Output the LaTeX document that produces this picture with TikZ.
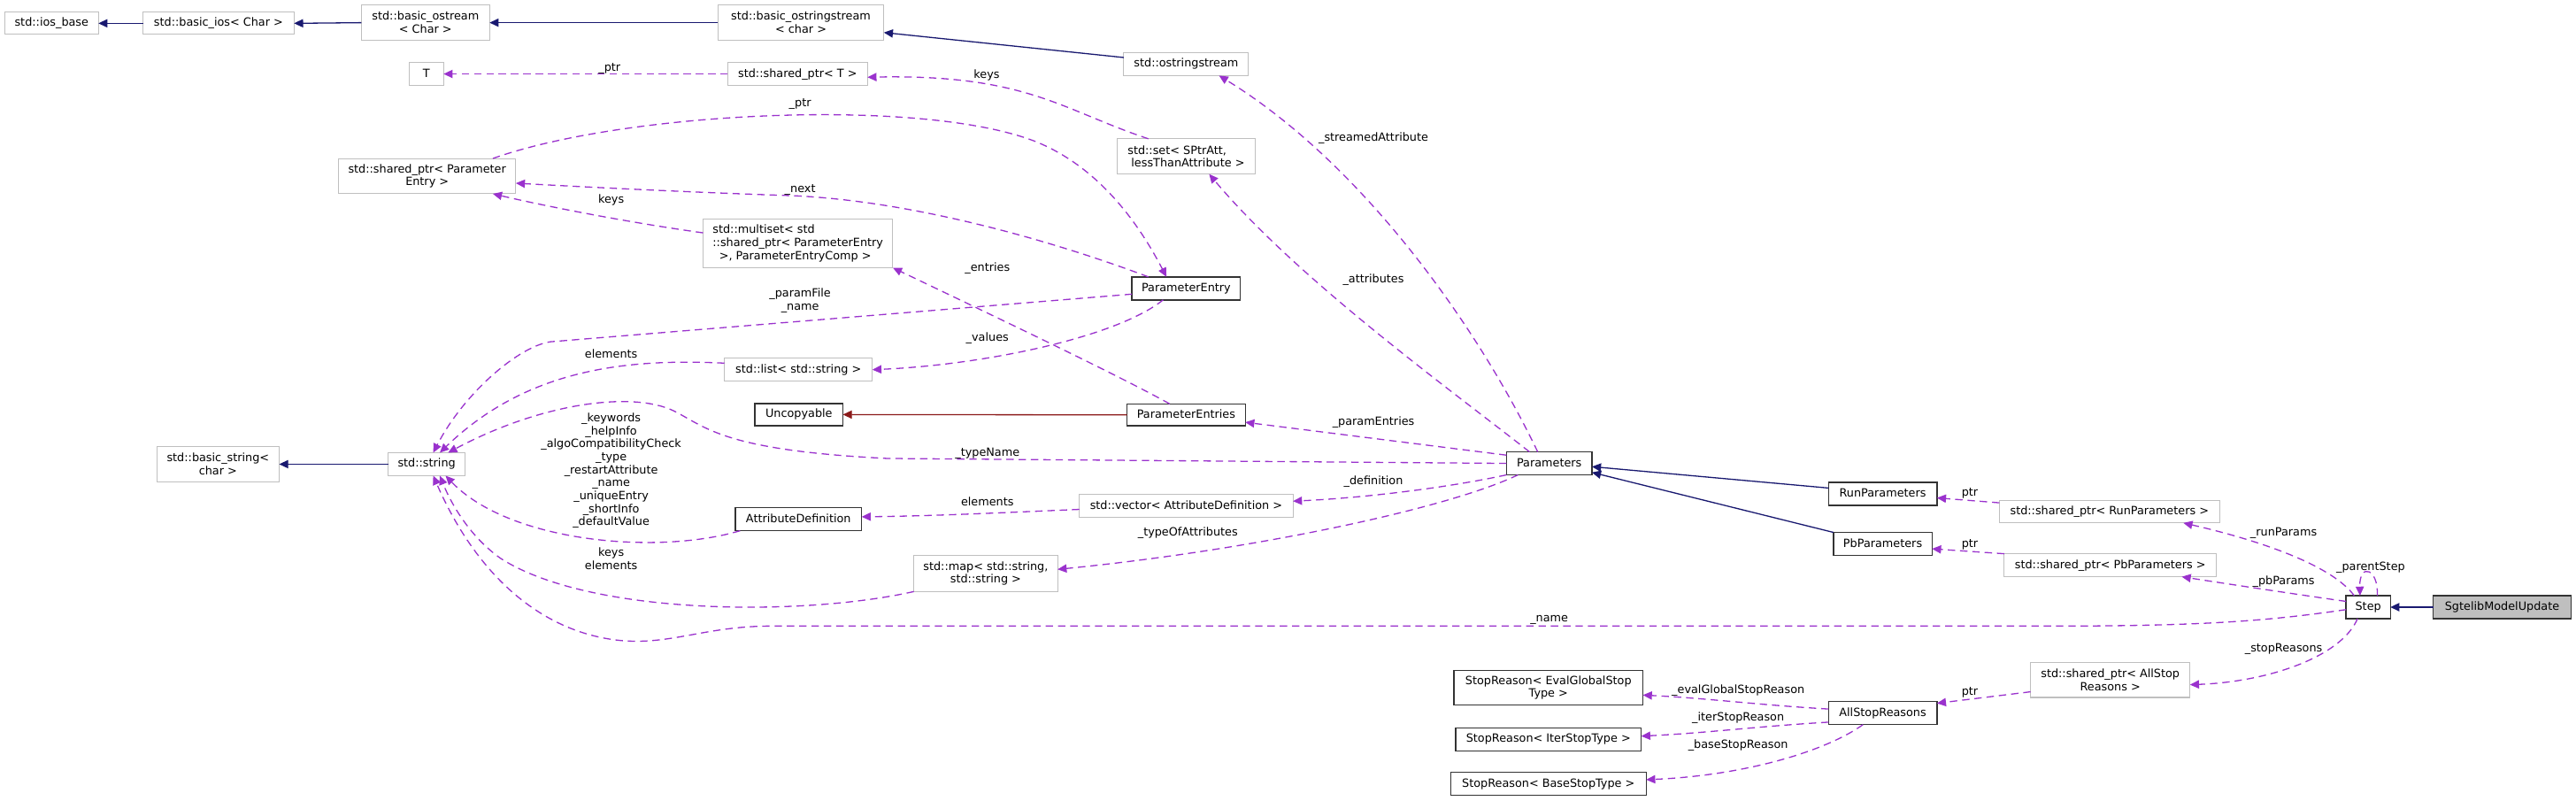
\documentclass[tikz,border=0pt]{standalone}
\usepackage{fontspec}
\setmainfont{DejaVu Sans}
\usetikzlibrary{arrows.meta}
\definecolor{usecol}{HTML}{9A32CD}
\definecolor{inhcol}{HTML}{191970}
\definecolor{privcol}{HTML}{8B1A1A}
\definecolor{extcol}{HTML}{BFBFBF}
\tikzset{
  box/.style={inner sep=0pt, outer sep=0pt, align=center, font=\fontsize{6.9}{8}\selectfont, fill=white},
  ext/.style={box, draw=extcol, line width=0.55pt},
  doc/.style={box, draw=black!80, line width=0.8pt},
  one/.style={text height=5.3pt, text depth=1.5pt},
  lbl/.style={inner sep=0pt, font=\fontsize{6.9}{8}\selectfont, text height=5.3pt, text depth=1.5pt},
  lblm/.style={inner sep=0pt, font=\fontsize{6.9}{7.9}\selectfont, align=center},
  tip/.style={-{Triangle[length=5.5pt,width=5pt]}},
  use/.style={tip, draw=usecol, fill=none, line width=0.7pt, dash pattern=on 4.5pt off 3pt},
  inh/.style={tip, draw=inhcol, line width=0.7pt},
  priv/.style={tip, draw=privcol, line width=0.7pt},
}
\begin{document}
\begin{tikzpicture}[x=1pt,y=-1pt]
\fill[white] (0,0) rectangle (1568,487);
\useasboundingbox (0,0) rectangle (1568,487);

% nodes
\node[ext,one,minimum width=57,minimum height=13.5] (iosbase) at (31.4,14.2) {std::ios\_base};
\node[ext,one,minimum width=92,minimum height=13.5] (basicios) at (133,14.2) {std::basic\_ios< Char >};
\node[ext,minimum width=78,minimum height=21.6] (basicostream) at (259,13.8) {std::basic\_ostream\\< Char >};
\node[ext,minimum width=101,minimum height=21.6] (basicostringstream) at (487.5,13.8) {std::basic\_ostringstream\\< char >};
\node[ext,one,minimum width=76,minimum height=14] (ostringstream) at (722,39) {std::ostringstream};
\node[ext,one,minimum width=21,minimum height=14] (T) at (259.5,45) {T};
\node[ext,one,minimum width=85,minimum height=14] (sharedptrT) at (485.5,45) {std::shared\_ptr< T >};
\node[ext,align=left,minimum width=84,minimum height=21.5] (set) at (722,95.2) {std::set< SPtrAtt,\\\hspace*{2.2pt}lessThanAttribute >};
\node[ext,minimum width=108,minimum height=21.5] (sharedptrPE) at (260,107.2) {std::shared\_ptr< Parameter\\Entry >};
\node[ext,align=left,minimum width=115.5,minimum height=29.5] (multiset) at (485.7,148.2) {std::multiset< std\\::shared\_ptr< ParameterEntry\\\hspace*{4pt}>, ParameterEntryComp >};
\node[doc,one,minimum width=66,minimum height=14] (PE) at (722,175.5) {ParameterEntry};
\node[ext,one,minimum width=90,minimum height=14] (list) at (486,225) {std::list< std::string >};
\node[doc,one,minimum width=53.5,minimum height=13.4] (uncopyable) at (486.3,252.3) {Uncopyable};
\node[doc,one,minimum width=72,minimum height=13.4] (PEs) at (722,252.5) {ParameterEntries};
\node[ext,minimum width=74.5,minimum height=22] (basicstring) at (132.7,282.5) {std::basic\_string<\\char >};
\node[ext,one,minimum width=46.5,minimum height=14] (string) at (259.7,282.5) {std::string};
\node[doc,one,minimum width=52,minimum height=14] (params) at (943,282) {Parameters};
\node[doc,one,minimum width=66,minimum height=14] (runparams) at (1146,300.5) {RunParameters};
\node[ext,one,minimum width=134,minimum height=13.5] (sprun) at (1284,311.5) {std::shared\_ptr< RunParameters >};
\node[doc,one,minimum width=60,minimum height=14] (pbparams) at (1146,331) {PbParameters};
\node[ext,one,minimum width=129,minimum height=14] (sppb) at (1284.5,344) {std::shared\_ptr< PbParameters >};
\node[ext,one,minimum width=130,minimum height=14] (vector) at (722,308) {std::vector< AttributeDefinition >};
\node[doc,one,minimum width=77,minimum height=14] (attrdef) at (486,316) {AttributeDefinition};
\node[ext,minimum width=87.5,minimum height=22] (map) at (600,349) {std::map< std::string,\\std::string >};
\node[doc,one,minimum width=27,minimum height=14] (step) at (1441.5,369.5) {Step};
\node[doc,one,fill=extcol,minimum width=84,minimum height=14] (sgtelib) at (1523,369.5) {SgtelibModelUpdate};
\node[ext,minimum width=97,minimum height=21.5] (spall) at (1284.5,413.7) {std::shared\_ptr< AllStop\\Reasons >};
\node[doc,minimum width=115,minimum height=21] (sreval) at (942.5,418.5) {StopReason< EvalGlobalStop\\Type >};
\node[doc,one,minimum width=66,minimum height=14] (allstop) at (1146,434) {AllStopReasons};
\node[doc,one,minimum width=113,minimum height=14] (sriter) at (942.5,450) {StopReason< IterStopType >};
\node[doc,one,minimum width=119,minimum height=14] (srbase) at (942.5,477) {StopReason< BaseStopType >};

% inheritance
\draw[inh] (basicios.west) -- (iosbase.east);
\draw[inh] (basicostream.west) -- (basicios.east);
\draw[inh] (basicostringstream.west) -- (basicostream.east);
\draw[inh] ([yshift=4pt]ostringstream.west) -- ([yshift=-6pt]basicostringstream.east);
\draw[inh] (string.west) -- (basicstring.east);
\draw[inh] ([yshift=3.5pt]runparams.west) -- ([yshift=-2pt]params.east);
\draw[inh] (pbparams.north west) -- ([yshift=1.5pt]params.south east);
\draw[inh,line width=1.1pt] (sgtelib.west) -- (step.east);
\draw[priv] (PEs.west) -- (uncopyable.east);

% usage
\draw[use] (sharedptrT.west) -- (T.east);
\draw[use] ([xshift=-23pt]set.north) .. controls (646.7,67.2) and (625,45) .. ([yshift=-2pt]sharedptrT.east);
\draw[use] ([xshift=40pt]sharedptrPE.north) .. controls (380,68) and (560,59) .. (630,86) .. controls (665,100) and (690,130) .. ([xshift=-12pt]PE.north);
\draw[use] ([xshift=10pt]PE.north west) .. controls (650,150) and (560,122) .. (480,119) .. controls (420,117) and (360,114) .. ([yshift=-4.3pt]sharedptrPE.east);
\draw[use] ([yshift=6.5pt]multiset.west) .. controls (380,135) and (330,125) .. ([xshift=40pt]sharedptrPE.south);
\draw[use] ([xshift=-10pt]PEs.north) .. controls (680,228) and (600,190) .. (multiset.south east);
\draw[use] ([yshift=-3.5pt]PE.west) -- (335,208) .. controls (315,211) and (282,240) .. ([xshift=4pt]string.north);
\draw[use] ([yshift=4pt]list.west) .. controls (380,218) and (320,225) .. ([xshift=8pt]string.north);
\draw[use] (params.west) -- (540,279) .. controls (440,274) and (430,260) .. (410,250) .. controls (385,238) and (330,245) .. ([xshift=13pt]string.north);
\draw[use] ([xshift=-14pt]PE.south) .. controls (680,205) and (600,222) .. (list.east);
\draw[use] ([yshift=5pt]params.west) -- ([yshift=-4.5pt]PEs.east);
\draw[use] ([xshift=-12pt]params.north) .. controls (880,235) and (790,170) .. ([xshift=14pt]set.south);
\draw[use] ([xshift=-7pt]params.north) .. controls (900,200) and (830,100) .. ([xshift=20pt]ostringstream.south);
\draw[use] (params.south west) .. controls (880,297) and (830,303) .. ([yshift=3pt]vector.east);
\draw[use] ([yshift=-2pt]vector.west) .. controls (610,312) and (570,314) .. ([yshift=1.5pt]attrdef.east);
\draw[use] ([xshift=-19pt]params.south) .. controls (880,310) and (760,335) .. ([yshift=2.5pt]map.east);
\draw[use] ([xshift=3pt]attrdef.south west) .. controls (400,338) and (310,330) .. ([xshift=11.5pt]string.south);
\draw[use] (map.south west) .. controls (490,375) and (360,375) .. (305,340) .. controls (285,326) and (274,305) .. ([xshift=8pt]string.south);
\draw[use] ([yshift=-1.5pt]step.west) .. controls (1380,378) and (1340,381) .. (1250,381) -- (470,381) .. controls (430,381) and (410,392) .. (380,390) .. controls (330,386) and (290,350) .. ([xshift=4pt]string.south);
\draw[use] ([yshift=5.5pt]sprun.west) -- ([yshift=-2.5pt]runparams.east);
\draw[use] ([yshift=7pt]sppb.west) -- ([yshift=-3pt]pbparams.east);
\draw[use] ([yshift=-7.3pt]spall.west) -- ([yshift=-1pt]allstop.north east);
\draw[use] ([xshift=-8.5pt]step.north) .. controls (1420,345) and (1380,330) .. ([xshift=45pt]sprun.south);
\draw[use] ([yshift=3.5pt]step.west) .. controls (1400,362) and (1360,356) .. ([xshift=43.5pt]sppb.south);
\draw[use] ([xshift=5.5pt]step.north) .. controls (1448,346) and (1436,342) .. ([xshift=-5pt]step.north);
\draw[use] ([xshift=-6.5pt]step.south) .. controls (1425,400) and (1380,415) .. ([yshift=-3pt]spall.east);
\draw[use] ([yshift=2.5pt]allstop.west) .. controls (1070,429) and (1040,425) .. ([yshift=-4.5pt]sreval.east);
\draw[use] ([yshift=-5.5pt]allstop.west) .. controls (1070,442) and (1040,446) .. ([yshift=2pt]sriter.east);
\draw[use] ([xshift=-12pt]allstop.south) .. controls (1110,458) and (1060,472) .. ([yshift=2.5pt]srbase.east);

% labels
\node[lbl] (lT) at (371,41.5) {\_ptr};
\node[lbl] (lkeysa) at (600.6,46) {keys};
\node[lbl] (lstream) at (836,84) {\_streamedAttribute};
\node[lbl] (lptrb) at (487,63) {\_ptr};
\node[lbl] (lnext) at (487,115) {\_next};
\node[lbl] (lkeysb) at (372,121.5) {keys};
\node[lbl] (lentries) at (601,163) {\_entries};
\node[lbl] (lattr) at (836,170) {\_attributes};
\node[lblm] (lpf) at (487,183) {\_paramFile\\\_name};
\node[lbl] (lvalues) at (601,206) {\_values};
\node[lbl] (lelema) at (372,216) {elements};
\node[lbl] (lpe) at (836,257) {\_paramEntries};
\node[lbl] (ltype) at (601,276) {\_typeName};
\node[lblm] (lattrdef) at (372,286.5) {\_keywords\\\_helpInfo\\\_algoCompatibilityCheck\\\_type\\\_restartAttribute\\\_name\\\_uniqueEntry\\\_shortInfo\\\_defaultValue};
\node[lbl] (ldef) at (836,293) {\_definition};
\node[lbl] (lelemb) at (601,306) {elements};
\node[lbl] (ltoa) at (723,324) {\_typeOfAttributes};
\node[lblm] (lke) at (372,340) {keys\\elements};
\node[lbl] (lname) at (943,376.5) {\_name};
\node[lbl] (lrun) at (1199,300) {ptr};
\node[lbl] (lpb) at (1199,331) {ptr};
\node[lbl] (lall) at (1199,421) {ptr};
\node[lbl] (lrp) at (1390,324) {\_runParams};
\node[lbl] (lps) at (1443,345) {\_parentStep};
\node[lbl] (lpbp) at (1390,354) {\_pbParams};
\node[lbl] (lsr) at (1390,395) {\_stopReasons};
\node[lbl] (leval) at (1058,420) {\_evalGlobalStopReason};
\node[lbl] (liter) at (1058,437) {\_iterStopReason};
\node[lbl] (lbase) at (1058,453.5) {\_baseStopReason};
\end{tikzpicture}
\end{document}
